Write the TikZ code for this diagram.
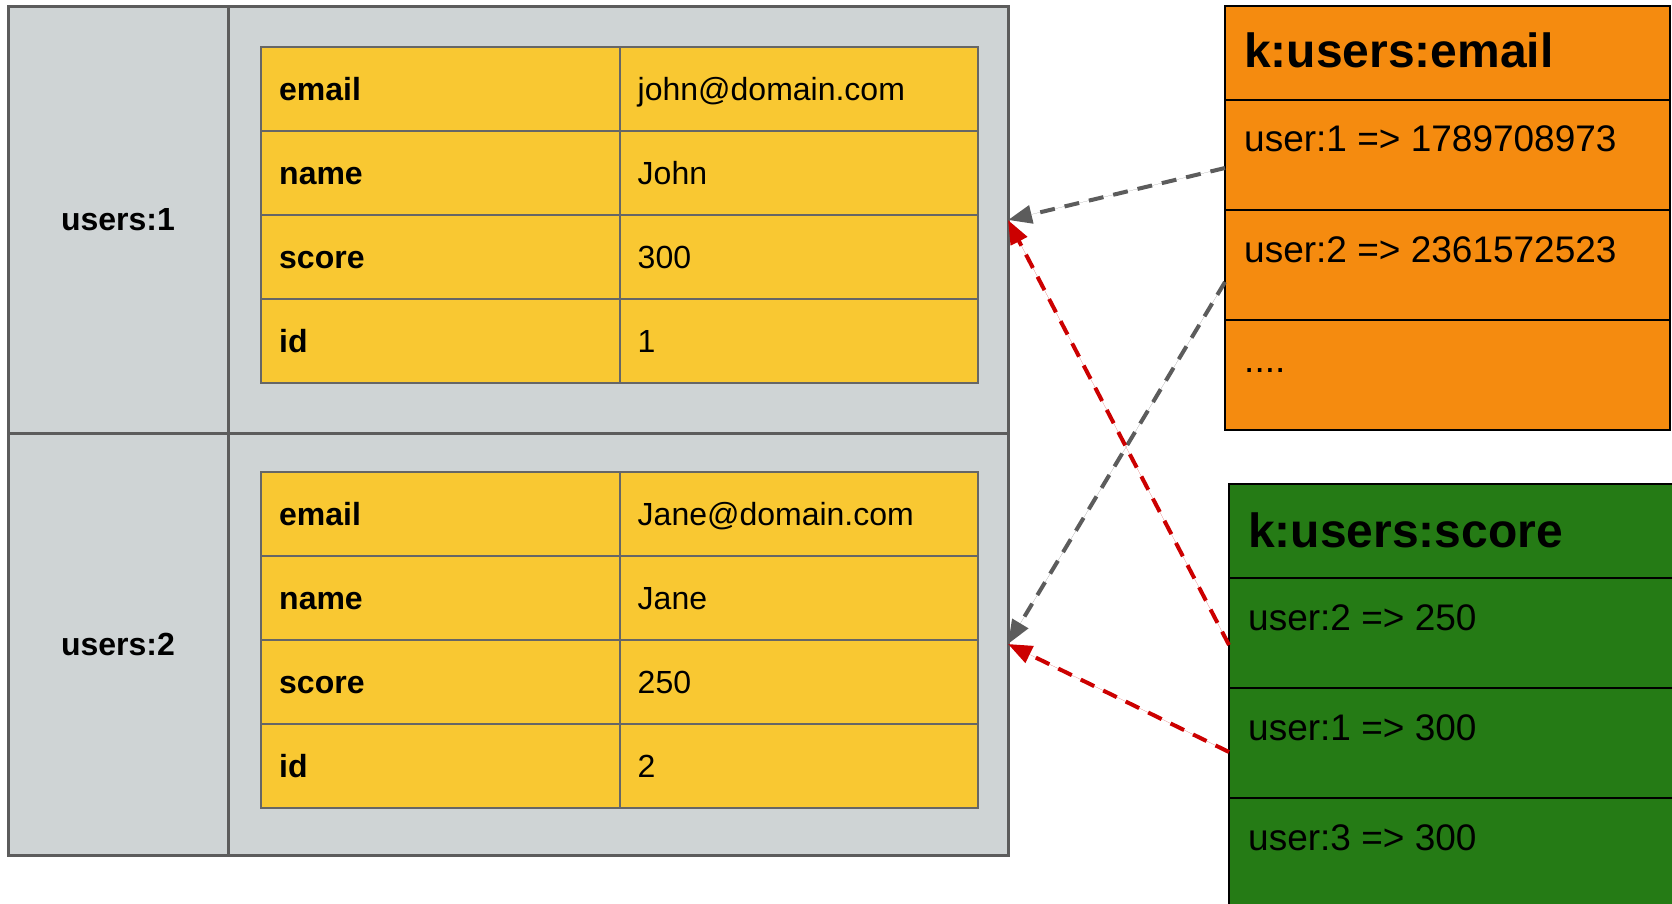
\documentclass[tikz,border=0pt]{standalone}
\usepackage{fontspec}
\setmainfont{Liberation Sans}
\usetikzlibrary{arrows.meta,calc}
\definecolor{grayfill}{RGB}{207,212,213}
\definecolor{grayline}{RGB}{92,92,92}
\definecolor{yel}{RGB}{249,200,50}
\definecolor{tabline}{RGB}{102,102,102}
\definecolor{org}{RGB}{245,139,15}
\definecolor{grn}{RGB}{37,123,21}
\definecolor{redarrow}{RGB}{204,0,0}
\tikzset{
  keybox/.style={draw=grayline, fill=grayfill, line width=3pt, inner sep=0pt, outer sep=0pt, anchor=north west},
  cell/.style={draw=tabline, fill=yel, line width=2pt, inner sep=0pt, outer sep=0pt, anchor=north west, minimum width=358.5pt, minimum height=84pt},
  idxbox/.style={draw=black, line width=2pt, inner sep=0pt, outer sep=0pt, anchor=north west},
  keyt/.style={font=\fontsize{32}{38}\selectfont\bfseries, inner sep=0pt, anchor=base west},
  valt/.style={font=\fontsize{32}{38}\selectfont, inner sep=0pt, anchor=base west},
  headt/.style={font=\fontsize{48}{56}\selectfont\bfseries, inner sep=0pt, anchor=base west},
  rowt/.style={font=\fontsize{37}{43}\selectfont, inner sep=0pt, anchor=base west},
  link/.style={line width=4pt, dash pattern=on 15pt off 10pt, -{Triangle[length=24pt,width=18pt]}},
  graylink/.style={link, draw=grayline, fill=grayline},
  redlink/.style={link, draw=redarrow, fill=redarrow},
}
\begin{document}
\begin{tikzpicture}[x=1pt,y=-1pt]
\useasboundingbox (0,0) rectangle (1672,904);
\clip (0,0) rectangle (1672,904);
\fill[white] (0,0) rectangle (1672,904);

% hash keys
\node[keybox, minimum width=220pt, minimum height=426pt] (k1) at (8,7) {};
\node[keybox, minimum width=780pt, minimum height=426pt] (v1) at (228,7) {};
\node[keybox, minimum width=220pt, minimum height=422pt] (k2) at (8,433) {};
\node[keybox, minimum width=780pt, minimum height=422pt] (v2) at (228,433) {};
\node[font=\fontsize{32}{38}\selectfont\bfseries, inner sep=0pt] (k1t) at (k1.center) {users:1};
\node[font=\fontsize{32}{38}\selectfont\bfseries, inner sep=0pt] (k2t) at (k2.center) {users:2};

% tables
\foreach \k/\v [count=\i from 0] in {email/john@domain.com, name/John, score/300, id/1} {
  \node[cell] (a\i-k) at (261, 47+84*\i) {};
  \node[cell] (a\i-v) at (619.5, 47+84*\i) {};
  \node[keyt] (a\i-kt) at ($(a\i-k.west)+(18,11.5)$) {\k};
  \node[valt] (a\i-vt) at ($(a\i-v.west)+(18,11.5)$) {\v};
}
\foreach \k/\v [count=\i from 0] in {email/Jane@domain.com, name/Jane, score/250, id/2} {
  \node[cell] (b\i-k) at (261, 472+84*\i) {};
  \node[cell] (b\i-v) at (619.5, 472+84*\i) {};
  \node[keyt] (b\i-kt) at ($(b\i-k.west)+(18,11.5)$) {\k};
  \node[valt] (b\i-vt) at ($(b\i-v.west)+(18,11.5)$) {\v};
}

% email index
\node[idxbox, fill=org, minimum width=445pt, minimum height=94pt] (oh) at (1225,6) {};
\node[idxbox, fill=org, minimum width=445pt, minimum height=110pt] (o1) at (1225,100) {};
\node[idxbox, fill=org, minimum width=445pt, minimum height=110pt] (o2) at (1225,210) {};
\node[idxbox, fill=org, minimum width=445pt, minimum height=110pt] (o3) at (1225,320) {};
\node[headt] (oht) at (1244,68) {k:users:email};
\node[rowt] (o1t) at (1244,152) {user:1 => 1789708973};
\node[rowt] (o2t) at (1244,262) {user:2 => 2361572523};
\node[rowt] (o3t) at (1244,372) {....};

% score index
\node[idxbox, fill=grn, minimum width=470pt, minimum height=94pt] (gh) at (1229,484) {};
\node[idxbox, fill=grn, minimum width=470pt, minimum height=110pt] (g1) at (1229,578) {};
\node[idxbox, fill=grn, minimum width=470pt, minimum height=110pt] (g2) at (1229,688) {};
\node[idxbox, fill=grn, minimum width=470pt, minimum height=110pt] (g3) at (1229,798) {};
\node[headt] (ght) at (1248,547) {k:users:score};
\node[rowt] (g1t) at (1248,630) {user:2 => 250};
\node[rowt] (g2t) at (1248,740) {user:1 => 300};
\node[rowt] (g3t) at (1248,850) {user:3 => 300};

% links
\draw[graylink] ($(o1.west)+(0,13)$) -- (v1.east);
\draw[graylink] ($(o2.west)+(0,17)$) -- (v2.east);
\draw[redlink] ($(g1.west)+(0,12)$) -- (v1.east);
\draw[redlink] ($(g2.west)+(0,9)$) -- (v2.east);
\end{tikzpicture}
\end{document}
